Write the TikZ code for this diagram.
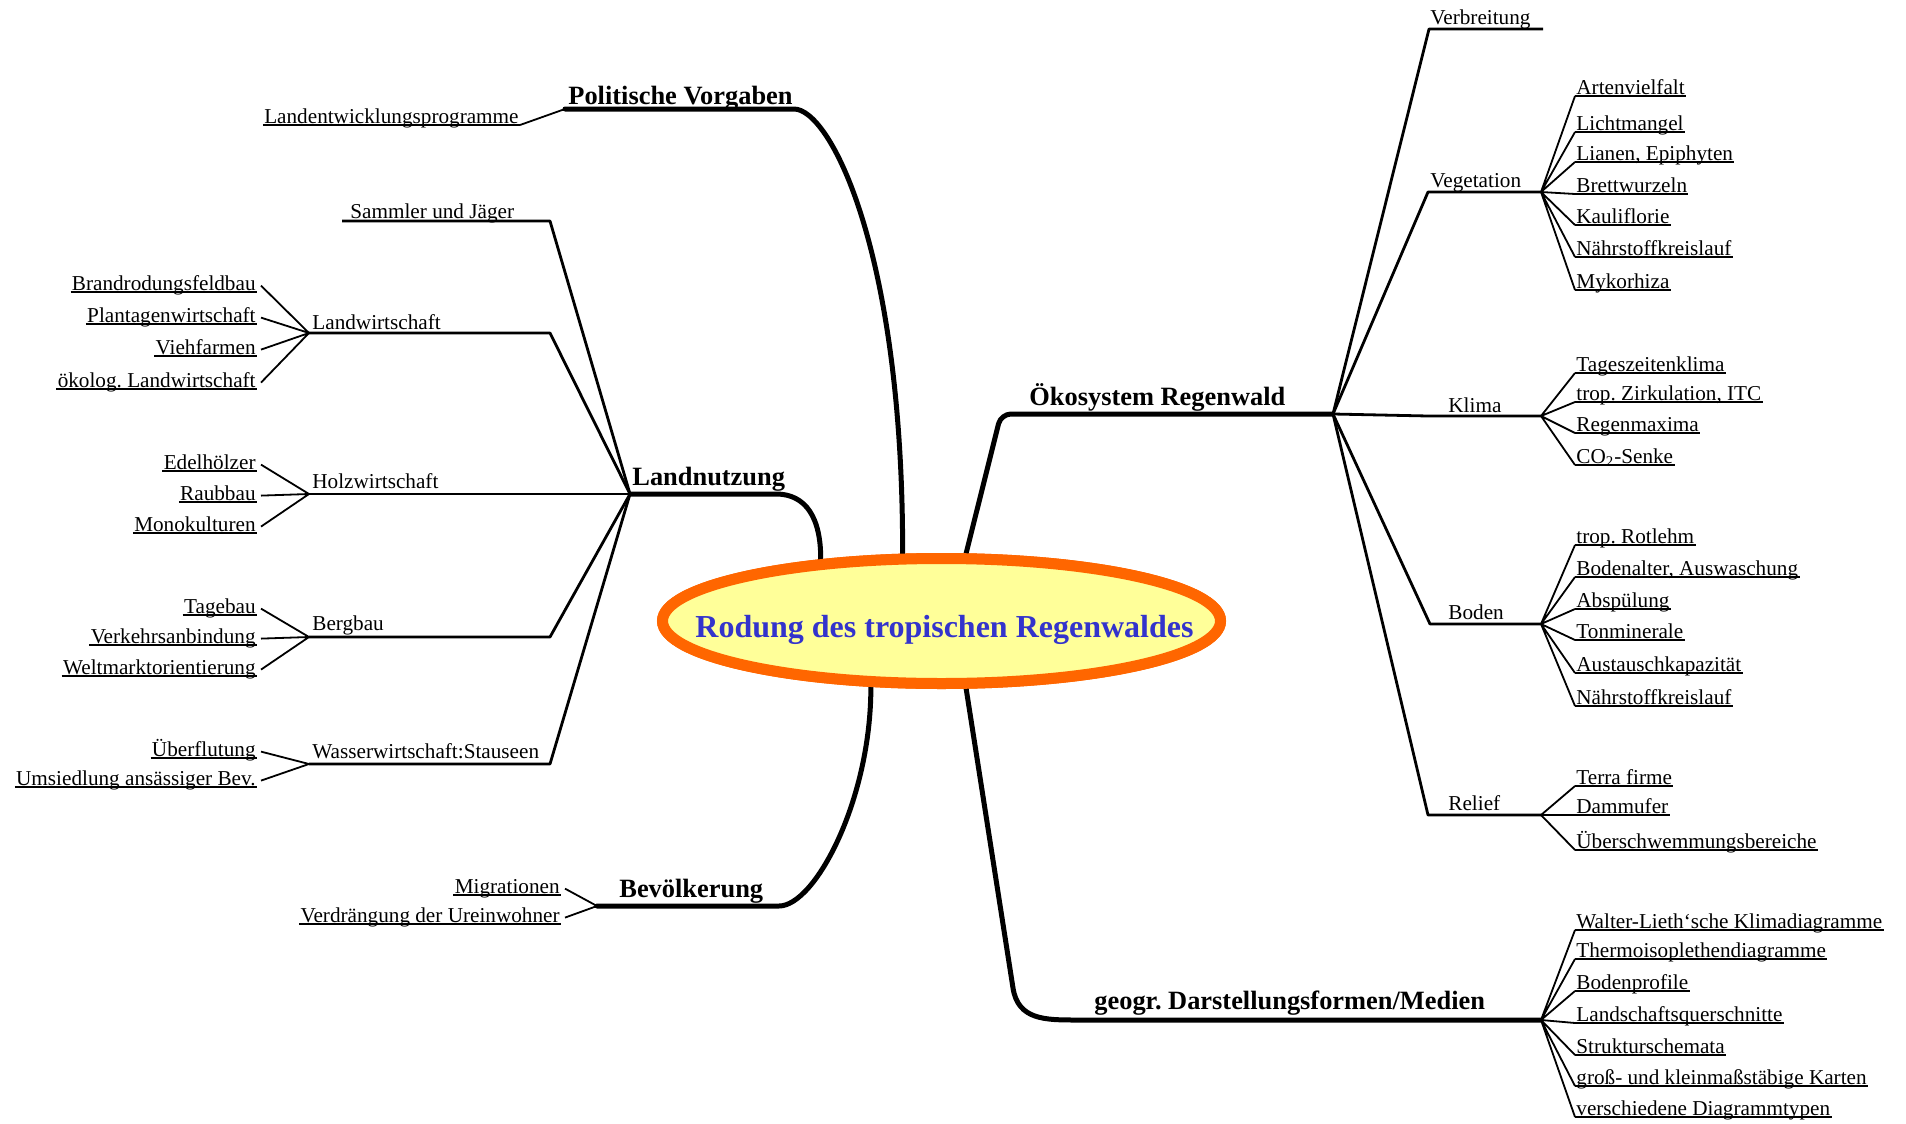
\documentclass[tikz,border=0pt]{standalone}
\usepackage{fontspec}
\setmainfont{Liberation Serif}
\usetikzlibrary{shapes.geometric}

\definecolor{rimorange}{HTML}{FF6600}
\definecolor{coreyellow}{HTML}{FFFF99}
\definecolor{titleblue}{HTML}{3333CC}

\newcommand\leafsize{\fontsize{10.6}{12}\selectfont\frenchspacing}
\newcommand\mainsize{\fontsize{13.2}{15}\selectfont\bfseries\frenchspacing}
\newcommand\titlesize{\fontsize{16}{19}\selectfont\bfseries}

\begin{document}
\begin{tikzpicture}[x=0.5pt, y=-0.5pt,
    core/.style={ellipse, draw=rimorange, fill=coreyellow, line width=5.5pt,
      minimum width=279pt, minimum height=62.5pt, inner sep=0pt},
    title/.style={font=\titlesize, text=titleblue, inner sep=0pt, anchor=base},
    main/.style={font=\mainsize, inner sep=0pt, anchor=base west},
    sub/.style={font=\leafsize, inner sep=0pt, anchor=base west},
    leaf/.style={font=\leafsize, inner xsep=0.5pt, inner ysep=0.7pt, text depth=0pt,
      append after command={(\tikzlastnode.south west) edge[ul] (\tikzlastnode.south east)}},
    trunk/.style={line width=2.5pt, line cap=round, line join=round},
    twig/.style={line width=1.4pt, line join=round},
    tie/.style={line width=0.9pt},
    ul/.style={line width=0.6pt}]
  \useasboundingbox (0,0) rectangle (1906,1124);

  % centre
  \node[core] (r0) at (941.5,621) {};

  % Politische Vorgaben
  \coordinate (ph) at (565,109);
  \node[main] (p0) at (568,104) {Politische Vorgaben};
  \node[leaf, anchor=south east] (p1) at (520,125) {Landentwicklungsprogramme};
  \draw[trunk] (ph) -- (794,109) .. controls (830,109) and (903,250) .. (r0.120);
  \draw[tie] (ph) -- (p1.south east);

  % Landnutzung
  \coordinate (lh) at (630,494);
  \node[main] (l0) at (632,485) {Landnutzung};
  \draw[trunk] (lh) -- (776,494) .. controls (806,494) and (821,518) .. (r0.153);

  \coordinate (lf1) at (342,221);
  \coordinate (lf2) at (309,333);
  \coordinate (lf3) at (309,494);
  \coordinate (lf4) at (309,637);
  \coordinate (lf5) at (309,764);
  \node[sub] (l1) at (350,218) {Sammler und Jäger};
  \node[sub] (l2) at (312,329) {Landwirtschaft};
  \node[sub] (l3) at (312,488) {Holzwirtschaft};
  \node[sub] (l4) at (312,630) {Bergbau};
  \node[sub] (l5) at (312,758) {Wasserwirtschaft:Stauseen};
  \begin{scope}[twig]
    \draw (lh) -- (550,221) -- (lf1);
    \draw (lh) -- (550,333) -- (lf2);
    \draw (lh) -- (lf3);
    \draw (lh) -- (550,637) -- (lf4);
    \draw (lh) -- (550,764) -- (lf5);
  \end{scope}

  \node[leaf, anchor=south east] (l2a) at (257,292) {Brandrodungsfeldbau};
  \node[leaf, anchor=south east] (l2b) at (257,324) {Plantagenwirtschaft};
  \node[leaf, anchor=south east] (l2c) at (257,356) {Viehfarmen};
  \node[leaf, anchor=south east] (l2d) at (257,389) {ökolog. Landwirtschaft};
  \node[leaf, anchor=south east] (l3a) at (257,471) {Edelhölzer};
  \node[leaf, anchor=south east] (l3b) at (257,502) {Raubbau};
  \node[leaf, anchor=south east] (l3c) at (257,533) {Monokulturen};
  \node[leaf, anchor=south east] (l4a) at (257,615) {Tagebau};
  \node[leaf, anchor=south east] (l4b) at (257,645) {Verkehrsanbindung};
  \node[leaf, anchor=south east] (l4c) at (257,676) {Weltmarktorientierung};
  \node[leaf, anchor=south east] (l5a) at (257,758) {Überflutung};
  \node[leaf, anchor=south east] (l5b) at (257,787) {Umsiedlung ansässiger Bev.};
  \begin{scope}[tie]
    \draw (lf2) -- ([xshift=2pt]l2a.mid east) (lf2) -- ([xshift=2pt]l2b.mid east)
      (lf2) -- ([xshift=2pt]l2c.mid east) (lf2) -- ([xshift=2pt]l2d.mid east);
    \draw (lf3) -- ([xshift=2pt]l3a.mid east) (lf3) -- ([xshift=2pt]l3b.mid east)
      (lf3) -- ([xshift=2pt]l3c.mid east);
    \draw (lf4) -- ([xshift=2pt]l4a.mid east) (lf4) -- ([xshift=2pt]l4b.mid east)
      (lf4) -- ([xshift=2pt]l4c.mid east);
    \draw (lf5) -- ([xshift=2pt]l5a.mid east) (lf5) -- ([xshift=2pt]l5b.mid east);
  \end{scope}

  % Bevoelkerung
  \coordinate (bh) at (597,906);
  \node[main] (b0) at (619,897) {Bevölkerung};
  \node[leaf, anchor=south east] (b1) at (561,895) {Migrationen};
  \node[leaf, anchor=south east] (b2) at (561,924) {Verdrängung der Ureinwohner};
  \draw[trunk] (bh) -- (779,906) .. controls (815,906) and (871,800) .. (r0.223);
  \draw[tie] (bh) -- ([xshift=2pt]b1.mid east) (bh) -- ([xshift=2pt]b2.mid east);

  % Oekosystem Regenwald
  \coordinate (oh) at (1333,414);
  \node[main] (o0) at (1029,405) {Ökosystem Regenwald};
  \draw[trunk, rounded corners=5pt] (r0.70) -- (1001,414) -- (oh);

  \coordinate (of1) at (1543,29);
  \coordinate (of2) at (1541,192);
  \coordinate (of3) at (1541,416);
  \coordinate (of4) at (1541,624);
  \coordinate (of5) at (1541,815);
  \node[sub] (o1) at (1430,25) {Verbreitung};
  \node[sub] (o2) at (1430,187) {Vegetation};
  \node[sub] (o3) at (1448,412) {Klima};
  \node[sub] (o4) at (1448,619) {Boden};
  \node[sub] (o5) at (1448,810) {Relief};
  \begin{scope}[twig]
    \draw (oh) -- (1429,29) -- (of1);
    \draw (oh) -- (1428,192) -- (of2);
    \draw (oh) -- (1428,416) -- (of3);
    \draw (oh) -- (1430,624) -- (of4);
    \draw (oh) -- (1428,815) -- (of5);
  \end{scope}

  \node[leaf, anchor=south west] (o2a) at (1575,96) {Artenvielfalt};
  \node[leaf, anchor=south west] (o2b) at (1575,132) {Lichtmangel};
  \node[leaf, anchor=south west] (o2c) at (1575,162) {Lianen, Epiphyten};
  \node[leaf, anchor=south west] (o2d) at (1575,194) {Brettwurzeln};
  \node[leaf, anchor=south west] (o2e) at (1575,225) {Kauliflorie};
  \node[leaf, anchor=south west] (o2f) at (1575,257) {Nährstoffkreislauf};
  \node[leaf, anchor=south west] (o2g) at (1575,290) {Mykorhiza};
  \node[leaf, anchor=south west] (o3a) at (1575,373) {Tageszeitenklima};
  \node[leaf, anchor=south west] (o3b) at (1575,402) {trop. Zirkulation, ITC};
  \node[leaf, anchor=south west] (o3c) at (1575,433) {Regenmaxima};
  \node[leaf, anchor=south west] (o3d) at (1575,465) {CO\textsubscript{2}-Senke};
  \node[leaf, anchor=south west] (o4a) at (1575,545) {trop. Rotlehm};
  \node[leaf, anchor=south west] (o4b) at (1575,577) {Bodenalter, Auswaschung};
  \node[leaf, anchor=south west] (o4c) at (1575,609) {Abspülung};
  \node[leaf, anchor=south west] (o4d) at (1575,640) {Tonminerale};
  \node[leaf, anchor=south west] (o4e) at (1575,673) {Austauschkapazität};
  \node[leaf, anchor=south west] (o4f) at (1575,706) {Nährstoffkreislauf};
  \node[leaf, anchor=south west] (o5a) at (1575,786) {Terra firme};
  \node[leaf, anchor=south west] (o5b) at (1575,815) {Dammufer};
  \node[leaf, anchor=south west] (o5c) at (1575,850) {Überschwemmungsbereiche};
  \begin{scope}[tie]
    \draw (of2) -- (o2a.south west) (of2) -- (o2b.south west) (of2) -- (o2c.south west)
      (of2) -- (o2d.south west) (of2) -- (o2e.south west) (of2) -- (o2f.south west)
      (of2) -- (o2g.south west);
    \draw (of3) -- (o3a.south west) (of3) -- (o3b.south west) (of3) -- (o3c.south west)
      (of3) -- (o3d.south west);
    \draw (of4) -- (o4a.south west) (of4) -- (o4b.south west) (of4) -- (o4c.south west)
      (of4) -- (o4d.south west) (of4) -- (o4e.south west) (of4) -- (o4f.south west);
    \draw (of5) -- (o5a.south west) (of5) -- (o5b.south west) (of5) -- (o5c.south west);
  \end{scope}

  % geogr. Darstellungsformen/Medien
  \coordinate (gh) at (1541,1020);
  \node[main] (g0) at (1094,1009) {geogr. Darstellungsformen/Medien};
  \draw[trunk] (r0.290) -- (1013,988) .. controls (1018,1020) and (1045,1020) .. (1077,1020) -- (gh);
  \node[leaf, anchor=south west] (g1) at (1575,930) {Walter-Lieth‘sche Klimadiagramme};
  \node[leaf, anchor=south west] (g2) at (1575,959) {Thermoisoplethendiagramme};
  \node[leaf, anchor=south west] (g3) at (1575,991) {Bodenprofile};
  \node[leaf, anchor=south west] (g4) at (1575,1023) {Landschaftsquerschnitte};
  \node[leaf, anchor=south west] (g5) at (1575,1055) {Strukturschemata};
  \node[leaf, anchor=south west] (g6) at (1575,1086) {groß- und kleinmaßstäbige Karten};
  \node[leaf, anchor=south west] (g7) at (1575,1117) {verschiedene Diagrammtypen};
  \begin{scope}[tie]
    \draw (gh) -- (g1.south west) (gh) -- (g2.south west) (gh) -- (g3.south west)
      (gh) -- (g4.south west) (gh) -- (g5.south west) (gh) -- (g6.south west)
      (gh) -- (g7.south west);
  \end{scope}

  % ellipse again on top of the trunk ends, then its title
  \node[core] (r1) at (r0.center) {};
  \node[title] (r2) at ([xshift=1.5pt, yshift=-8pt]r0.center) {Rodung des tropischen Regenwaldes};
\end{tikzpicture}
\end{document}
